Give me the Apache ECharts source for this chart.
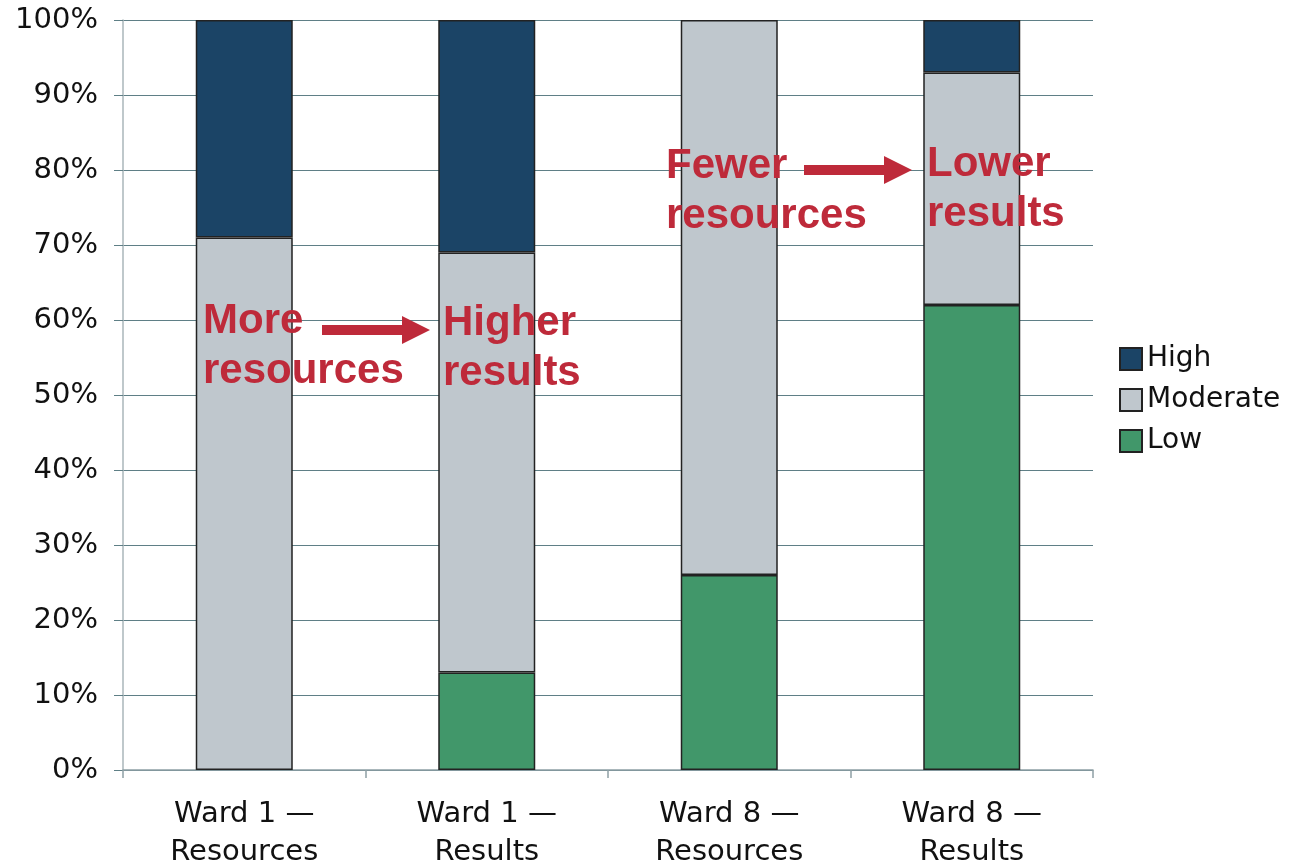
<!DOCTYPE html>
<html>
<head>
<meta charset="utf-8">
<title>Ward resources vs results</title>
<script src="https://cdn.jsdelivr.net/npm/echarts@6/dist/echarts.min.js"></script>
<style>
  html, body { margin: 0; padding: 0; background: #fff; }
  #chart { width: 1293px; height: 861px; }
</style>
</head>
<body>
<div id="chart"></div>
<script>
var chart = echarts.init(document.getElementById('chart'));

// data
var categories = ['Ward 1 —\nResources', 'Ward 1 —\nResults', 'Ward 8 —\nResources', 'Ward 8 —\nResults'];
var lowVals = [0, 13, 26, 62];
var moderateVals = [71, 56, 74, 31];
var highVals = [29, 31, 0, 7];
var legendNames = ['High', 'Moderate', 'Low'];

var red = '#be2a3a';
var font = 'DejaVu Sans, Verdana, sans-serif';

function barSeries(name, vals, color) {
    return {
        name: name,
        type: 'bar',
        stack: 'total',
        barWidth: '40%',
        // zero segments are left out so they don't leave a border line
        data: vals.map(function (v) { return v === 0 ? '-' : v; }),
        itemStyle: { color: color, borderColor: '#222', borderWidth: 1.5 }
    };
}

var option = {
    animation: false,
    textStyle: { fontFamily: font },
    grid: { left: 123, right: 200, top: 20, bottom: 91, outerBoundsMode: 'none', containLabel: false },
    legend: {
        data: legendNames,
        orient: 'vertical',
        left: 1114,
        top: 340,
        icon: 'rect',
        itemWidth: 22,
        itemHeight: 22,
        itemGap: 13,
        textStyle: { fontSize: 28, color: '#111', fontFamily: font }
    },
    xAxis: {
        type: 'category',
        data: categories,
        axisLine: { lineStyle: { color: '#8ea0a5', width: 1.5 } },
        axisTick: { show: true, length: 8, lineStyle: { color: '#8ea0a5', width: 1.5 } },
        axisLabel: { color: '#111', fontSize: 29, lineHeight: 38, margin: 25 }
    },
    yAxis: {
        type: 'value',
        min: 0,
        max: 100,
        interval: 10,
        axisLine: { show: true, lineStyle: { color: '#aab6ba', width: 1.5 } },
        axisTick: { show: true, length: 9, lineStyle: { color: '#5f7f86' } },
        splitLine: { lineStyle: { color: '#5f7f86', width: 1.2 } },
        axisLabel: { color: '#111', fontSize: 29, margin: 25, formatter: '{value}%' }
    },
    series: [
        barSeries('Low', lowVals, '#41976a'),
        barSeries('Moderate', moderateVals, '#bfc7cd'),
        barSeries('High', highVals, '#1b4466')
    ]
};

chart.setOption(option);

// annotation overlay
function arrow(x1, x2, y) {
    return {
        type: 'polygon',
        z: 100,
        shape: {
            points: [
                [x1, y - 5], [x2 - 28, y - 5], [x2 - 28, y - 14], [x2, y],
                [x2 - 28, y + 14], [x2 - 28, y + 5], [x1, y + 5]
            ]
        },
        style: { fill: red }
    };
}
function label(text, x, y) {
    return {
        type: 'text',
        z: 100,
        x: x,
        y: y,
        style: {
            text: text,
            fill: red,
            font: 'bold 42px "Liberation Sans", Arial, sans-serif',
            lineHeight: 50,
            verticalAlign: 'top'
        }
    };
}

chart.setOption({
    graphic: [
        label('More\nresources', 203, 296),
        arrow(322, 430, 330),
        label('Higher\nresults', 443, 298),
        label('Fewer\nresources', 666, 141),
        arrow(804, 912, 170),
        label('Lower\nresults', 927, 139)
    ]
});
</script>
</body>
</html>
